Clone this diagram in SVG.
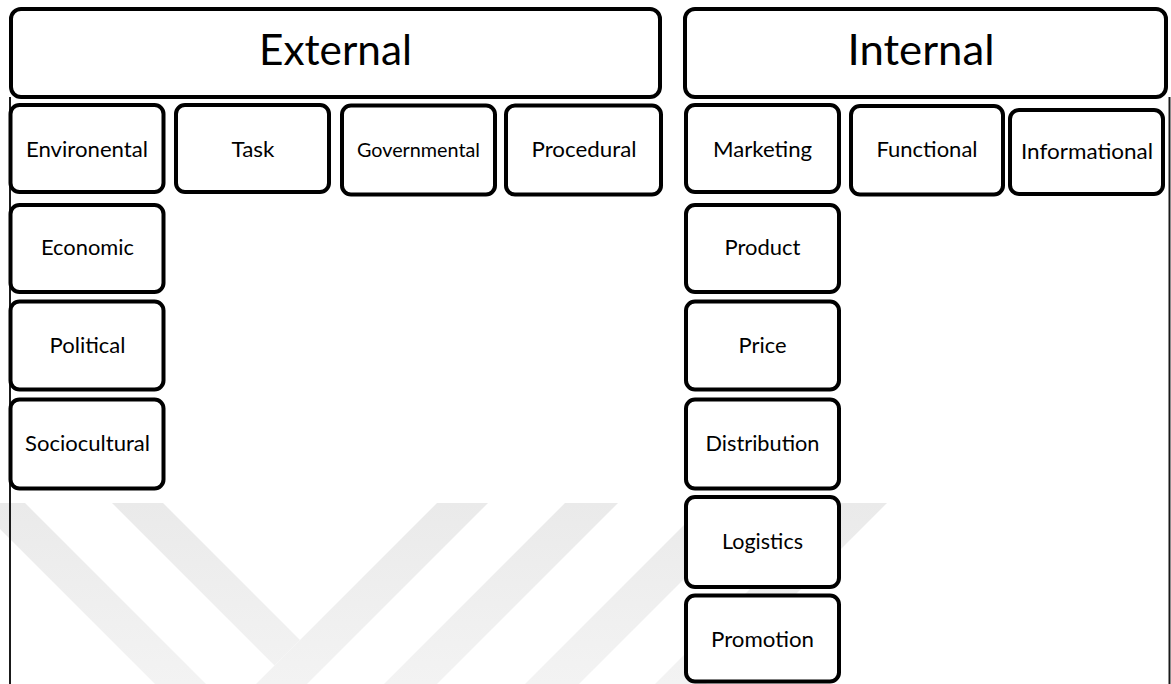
<svg xmlns="http://www.w3.org/2000/svg" width="1171" height="684" viewBox="0 0 1171 684">
  <style>
    .box { fill: #ffffff; stroke: #000000; stroke-width: 4; }
    .lbl { font-family: Lato, "Open Sans", sans-serif; font-size: 21.5px; fill: #000000; text-anchor: middle; }
    .head { font-family: Lato, "Open Sans", sans-serif; font-size: 42px; fill: #000000; text-anchor: middle; }
    .rule { stroke: #1a1a1a; stroke-width: 2; fill: none; }
    .wm { fill: url(#wmFade); }
  </style>
  <defs>
    <linearGradient id="wmFade" gradientUnits="userSpaceOnUse" x1="0" y1="503" x2="0" y2="684">
      <stop offset="0" stop-color="#eaeaea"/>
      <stop offset="1" stop-color="#f3f3f3"/>
    </linearGradient>
  </defs>

  <rect width="1171" height="684" fill="#ffffff"/>

  <!-- background chevron band -->
  <g id="watermark">
    <polygon class="wm" points="-26,503 25,503 206,684 155,684"/>
    <polygon class="wm" points="112,503 163,503 300,640 274.5,665.5"/>
    <polygon class="wm" points="437,503 488,503 307,684 256,684"/>
    <polygon class="wm" points="565,503 618,503 437,684 384,684"/>
    <polygon class="wm" points="706,503 760,503 579,684 525,684"/>
    <polygon class="wm" points="836,503 887,503 706,684 655,684"/>
  </g>

  <!-- side rules framing the two columns -->
  <g id="connectors">
    <line class="rule" x1="10" y1="97" x2="10" y2="684"/>
    <line class="rule" x1="1169.5" y1="97" x2="1169.5" y2="684"/>
  </g>

  <!-- External side -->
  <g id="external">
    <rect class="box" x="11" y="9" width="649" height="88" rx="10"/>
    <text class="head" x="335.5" y="65" textLength="153" lengthAdjust="spacingAndGlyphs">External</text>
  </g>
  <g id="environental">
    <rect class="box" x="10.5" y="105" width="153" height="87" rx="9"/>
    <text class="lbl" x="87" y="157" textLength="122" lengthAdjust="spacingAndGlyphs">Environental</text>
  </g>
  <g id="task">
    <rect class="box" x="176" y="105" width="153" height="87" rx="9"/>
    <text class="lbl" x="253" y="157" textLength="43" lengthAdjust="spacingAndGlyphs">Task</text>
  </g>
  <g id="governmental">
    <rect class="box" x="342" y="105.5" width="153" height="89" rx="9"/>
    <text class="lbl" x="418.5" y="157" style="font-size:19.5px" textLength="123" lengthAdjust="spacingAndGlyphs">Governmental</text>
  </g>
  <g id="procedural">
    <rect class="box" x="506" y="105.5" width="155" height="89" rx="9"/>
    <text class="lbl" x="584" y="157" textLength="105" lengthAdjust="spacingAndGlyphs">Procedural</text>
  </g>
  <g id="economic">
    <rect class="box" x="10.5" y="205" width="153" height="87" rx="9"/>
    <text class="lbl" x="87.5" y="255" textLength="93" lengthAdjust="spacingAndGlyphs">Economic</text>
  </g>
  <g id="political">
    <rect class="box" x="10.5" y="301.5" width="153" height="88" rx="9"/>
    <text class="lbl" x="87.5" y="353" textLength="76" lengthAdjust="spacingAndGlyphs">Political</text>
  </g>
  <g id="sociocultural">
    <rect class="box" x="10.5" y="399.5" width="153" height="89" rx="9"/>
    <text class="lbl" x="87.5" y="451" textLength="125" lengthAdjust="spacingAndGlyphs">Sociocultural</text>
  </g>

  <!-- Internal side -->
  <g id="internal">
    <rect class="box" x="685" y="9" width="481" height="88" rx="10"/>
    <text class="head" x="921" y="65" textLength="147" lengthAdjust="spacingAndGlyphs">Internal</text>
  </g>
  <g id="marketing">
    <rect class="box" x="686" y="105" width="153" height="87" rx="9"/>
    <text class="lbl" x="762.5" y="157" textLength="99" lengthAdjust="spacingAndGlyphs">Marketing</text>
  </g>
  <g id="functional">
    <rect class="box" x="851" y="106" width="152" height="88.5" rx="9"/>
    <text class="lbl" x="927" y="157" textLength="101" lengthAdjust="spacingAndGlyphs">Functional</text>
  </g>
  <g id="informational">
    <rect class="box" x="1010" y="110" width="153" height="84" rx="9"/>
    <text class="lbl" x="1087" y="159" textLength="132" lengthAdjust="spacingAndGlyphs">Informational</text>
  </g>
  <g id="product">
    <rect class="box" x="686" y="205" width="153" height="87" rx="9"/>
    <text class="lbl" x="762.5" y="255" textLength="76" lengthAdjust="spacingAndGlyphs">Product</text>
  </g>
  <g id="price">
    <rect class="box" x="686" y="301.5" width="153" height="88" rx="9"/>
    <text class="lbl" x="762.5" y="353" textLength="48" lengthAdjust="spacingAndGlyphs">Price</text>
  </g>
  <g id="distribution">
    <rect class="box" x="686" y="399.5" width="153" height="89" rx="9"/>
    <text class="lbl" x="762.5" y="451" textLength="114" lengthAdjust="spacingAndGlyphs">Distribution</text>
  </g>
  <g id="logistics">
    <rect class="box" x="686" y="497" width="153" height="90" rx="9"/>
    <text class="lbl" x="762.5" y="549" textLength="81" lengthAdjust="spacingAndGlyphs">Logistics</text>
  </g>
  <g id="promotion">
    <rect class="box" x="686" y="595.5" width="153" height="86" rx="9"/>
    <text class="lbl" x="762.5" y="647" textLength="103" lengthAdjust="spacingAndGlyphs">Promotion</text>
  </g>
</svg>
